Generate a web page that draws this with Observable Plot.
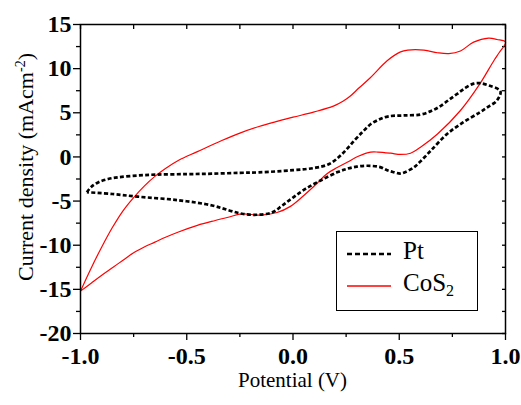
<!DOCTYPE html>
<html>
<head>
<meta charset="utf-8">
<script src="https://cdn.jsdelivr.net/npm/d3@7"></script>
<script src="https://cdn.jsdelivr.net/npm/@observablehq/plot@0.6"></script>
<style>
  body { margin: 0; background: #fff; }
  #wrap { position: relative; width: 521px; height: 405px; }
  #wrap svg { position: absolute; left: 0; top: 0; }
  .ovl { position: absolute; color: #000; white-space: nowrap; }
  html body #wrap, html body #wrap *, html body #wrap svg text { font-family: "Liberation Serif", serif !important; }
</style>
</head>
<body>
<div id="wrap"></div>
<script>
// ---- data ----
const seriesNames = ["Pt", "CoS2"];
const xTicks = [-1.0, -0.5, 0.0, 0.5, 1.0];
const xMinorTicks = [-0.75, -0.25, 0.25, 0.75];
const yTicks = [-20, -15, -10, -5, 0, 5, 10, 15];
const yMinorTicks = [-17.5, -12.5, -7.5, -2.5, 2.5, 7.5, 12.5];

// Pt loop (ordered along the loop)
const ptX = [-0.97, -0.95, -0.915, -0.87, -0.821, -0.73, -0.641, -0.5, -0.382, -0.25, -0.16, 0.0, 0.1, 0.17, 0.23, 0.29, 0.33, 0.365, 0.41, 0.45, 0.52, 0.6, 0.65, 0.69, 0.73, 0.77, 0.81, 0.85, 0.88, 0.92, 0.976,
  0.96, 0.92, 0.88, 0.8, 0.725, 0.65, 0.6, 0.57, 0.53, 0.506, 0.47, 0.443, 0.41, 0.35, 0.3, 0.255, 0.21, 0.13, 0.06, 0.0, -0.05, -0.1, -0.17, -0.24, -0.3, -0.38, -0.54, -0.73, -0.85, -0.97];
const ptY = [-4.0, -3.4, -2.86, -2.5, -2.3, -2.1, -2.0, -1.95, -1.9, -1.8, -1.75, -1.5, -1.25, -0.8, 0.3, 1.9, 2.9, 3.7, 4.3, 4.6, 4.7, 4.8, 5.2, 5.7, 6.4, 7.1, 7.8, 8.3, 8.35, 8.1, 7.45,
  6.4, 5.7, 5.07, 3.9, 2.6, 0.75, -0.5, -1.16, -1.7, -1.88, -1.7, -1.5, -1.15, -1.0, -1.1, -1.34, -1.72, -2.67, -3.6, -4.6, -5.5, -6.3, -6.55, -6.44, -6.06, -5.5, -4.9, -4.5, -4.2, -4.0];

// CoS2 loop (ordered along the loop)
const cosX = [-1.0, -0.95, -0.9, -0.85, -0.8, -0.75, -0.7, -0.65, -0.6, -0.54, -0.45, -0.335, -0.25, -0.16, -0.08, 0.0, 0.1, 0.19, 0.235, 0.27, 0.31, 0.365, 0.443, 0.506, 0.54, 0.616, 0.68, 0.733, 0.788, 0.85, 0.92, 0.96, 1.0,
  0.97, 0.945, 0.88, 0.788, 0.68, 0.6, 0.553, 0.506, 0.46, 0.40, 0.365, 0.31, 0.255, 0.208, 0.16, 0.1, 0.04, -0.012, -0.075, -0.153, -0.24, -0.3, -0.366, -0.45, -0.539, -0.6, -0.65, -0.7, -0.75, -0.8, -0.85, -0.9, -0.95, -1.0];
const cosY = [-15.2, -12.6, -10.2, -8.0, -6.1, -4.6, -3.3, -2.2, -1.3, -0.4, 0.6, 1.86, 2.7, 3.45, 4.0, 4.5, 5.1, 5.75, 6.3, 6.9, 7.8, 9.0, 10.9, 11.9, 12.1, 12.1, 11.8, 11.7, 12.0, 13.0, 13.45, 13.3, 13.0,
  11.8, 10.9, 8.3, 5.26, 2.6, 1.1, 0.42, 0.28, 0.42, 0.55, 0.54, 0.1, -0.6, -1.2, -1.9, -3.3, -4.6, -5.6, -6.3, -6.6, -6.45, -6.8, -7.2, -7.75, -8.5, -9.1, -9.65, -10.2, -10.85, -11.7, -12.55, -13.4, -14.3, -15.2];

const pt = ptX.map((x, i) => ({x, y: ptY[i]}));
const cos = cosX.map((x, i) => ({x, y: cosY[i]}));

const chart = Plot.plot({
  width: 521,
  height: 405,
  marginLeft: 80,
  marginRight: 16,
  marginTop: 24,
  marginBottom: 72,
  style: {fontFamily: "Liberation Serif", fontSize: "24px", color: "#000", background: "transparent", overflow: "visible"},
  x: {domain: [-1, 1]},
  y: {domain: [-20, 15]},
  marks: [
    Plot.axisX(xTicks, {anchor: "bottom", tickSize: 7, tickPadding: 6, strokeWidth: 1.3, tickFormat: d => d.toFixed(1), fontWeight: "bold", fontSize: 24, label: null}),
    Plot.axisX(xMinorTicks, {anchor: "bottom", tickSize: 4, strokeWidth: 1.3, tickFormat: () => "", label: null}),
    Plot.axisX(xTicks.concat(xMinorTicks), {anchor: "top", tickSize: -4, strokeWidth: 1.3, tickFormat: () => "", label: null}),
    Plot.axisY(yTicks, {anchor: "left", tickSize: 7, tickPadding: 2, strokeWidth: 1.3, tickFormat: d => String(d), fontWeight: "bold", fontSize: 24, label: null}),
    Plot.axisY(yMinorTicks, {anchor: "left", tickSize: 4, strokeWidth: 1.3, tickFormat: () => "", label: null}),
    Plot.axisY(yTicks.concat(yMinorTicks), {anchor: "right", tickSize: -4, strokeWidth: 1.3, tickFormat: () => "", label: null}),
    Plot.line(cos, {x: "x", y: "y", stroke: "#ff0000", strokeWidth: 1.2, curve: "catmull-rom"}),
    Plot.line(pt, {x: "x", y: "y", stroke: "#000", strokeWidth: 2.7, strokeDasharray: "4,2.3", strokeLinecap: "butt", strokeLinejoin: "round", curve: "catmull-rom"}),
    Plot.frame({stroke: "#000", strokeWidth: 1.5})
  ]
});

const wrap = document.getElementById("wrap");
wrap.appendChild(chart);

function addDiv(html, css) {
  const d = document.createElement("div");
  d.className = "ovl";
  d.innerHTML = html;
  Object.assign(d.style, css);
  wrap.appendChild(d);
  return d;
}

// axis titles
addDiv("Potential (V)", {left: "0px", width: "585px", textAlign: "center", top: "368px", fontSize: "21px", lineHeight: "24px"});
addDiv("Current density (mAcm<sup style='font-size:14px;vertical-align:8px;line-height:0'>-2</sup>)",
  {left: "26px", top: "167px", fontSize: "22px", lineHeight: "24px", transform: "translate(-50%,-50%) rotate(-90deg)"});

// legend
const leg = addDiv("", {left: "336px", top: "231px", width: "140px", height: "78px", border: "1.5px solid #000", background: "#fff"});
const legSvg = `<svg width="140" height="78" style="position:absolute;left:0;top:0">
  <line x1="10" x2="54" y1="22" y2="22" stroke="#000" stroke-width="2.7" stroke-dasharray="5,3"/>
  <line x1="10" x2="54" y1="54" y2="54" stroke="#ff0000" stroke-width="1.4"/>
</svg>`;
leg.innerHTML = legSvg +
  `<div style="position:absolute;left:66px;top:5px;font-size:25px;line-height:28px">${seriesNames[0]}</div>` +
  `<div style="position:absolute;left:66px;top:37px;font-size:25px;line-height:28px">CoS<sub style='font-size:16px;vertical-align:-5px;line-height:0'>2</sub></div>`;
</script>
</body>
</html>
